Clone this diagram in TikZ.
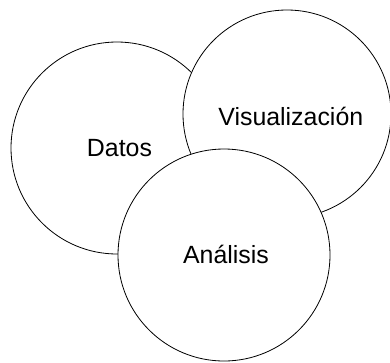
\documentclass[tikz,border=0pt]{standalone}
\usepackage{fontspec}
\setmainfont{Liberation Sans}
\begin{document}
\begin{tikzpicture}[x=1pt, y=-1pt, line join = round, line cap = round, line width=0.8pt]
				\useasboundingbox (0,0) rectangle (390,362);
				\tikzset{ring/.style={circle, draw, fill=white, inner sep=0pt, outer sep=0pt}}
				\foreach \n/\x/\y/\d in {datos/117/148/212, visual/287/114/208, analisis/224/255/212}{
					\node[ring, minimum size=\d pt] (\n) at (\x,\y) {};
				}
				\node[anchor=base, font=\fontsize{24.9}{30}\selectfont] (tdatos) at (119.5,156.7) {Datos};
				\node[anchor=base, font=\fontsize{24.9}{30}\selectfont] (tvisual) at (290.8,125) {Visualización};
				\node[anchor=base, font=\fontsize{24.9}{30}\selectfont] (tanalisis) at (226,263.3) {Análisis};
			\end{tikzpicture}
\end{document}
